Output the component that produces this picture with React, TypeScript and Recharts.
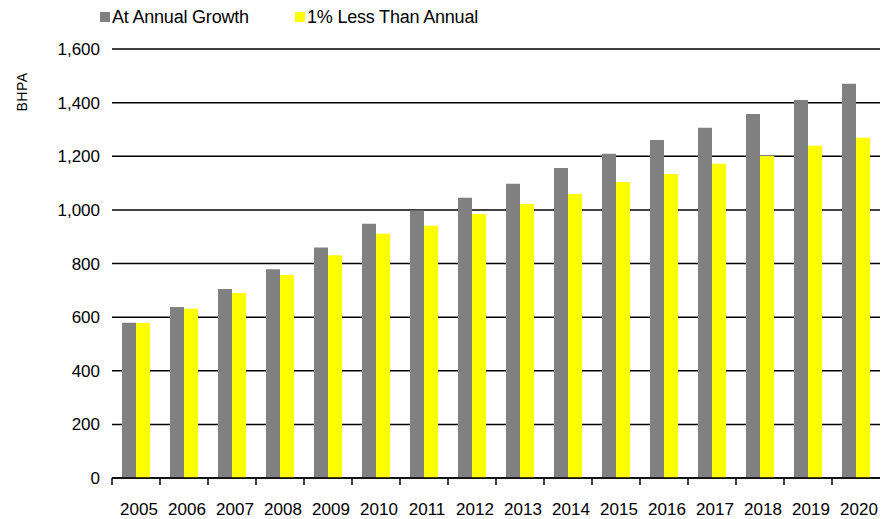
import { BarChart, Bar, XAxis, YAxis, CartesianGrid } from "recharts";

const years = ["2005", "2006", "2007", "2008", "2009", "2010", "2011", "2012", "2013", "2014", "2015", "2016", "2017", "2018", "2019", "2020"];
const atAnnualGrowth = [579, 638, 705, 779, 860, 948, 998, 1045, 1097, 1156, 1209, 1261, 1306, 1358, 1410, 1470];
const onePctLess = [578, 631, 690, 757, 831, 911, 941, 985, 1022, 1059, 1104, 1134, 1172, 1201, 1239, 1269];
const yTicks = [0, 200, 400, 600, 800, 1000, 1200, 1400, 1600];
const seriesNames = ["At Annual Growth", "1% Less Than Annual"];
const seriesColors = ["#808080", "#FFFF00"];

const data = years.map((year, i) => ({
  year,
  growth: atAnnualGrowth[i],
  less: onePctLess[i],
}));

const FONT = "'Liberation Sans', Arial, sans-serif";

const XTick = ({ x, y, payload }: any) => (
  <g>
    <line x1={x - 24} x2={x - 24} y1={y - 8} y2={y - 1} stroke="#000" strokeWidth={1.5} />
    <text x={x + 3} y={y} dy={29} textAnchor="middle" fill="#000" fontSize={17} fontFamily={FONT}>
      {payload.value}
    </text>
  </g>
);

const AxisTitle = () => (
  <text x={27} y={92} transform="rotate(-90 27 92)" textAnchor="middle" fill="#000" fontSize={14} letterSpacing={0.5} fontFamily={FONT}>
    BHPA
  </text>
);

// legend sits on top of the chart so it doesn't push the plot down
const TopLegend = () => {
  const pos = [100, 295];
  return (
    <div style={{ position: "absolute", left: 0, top: 0, width: 882, height: 30, fontFamily: FONT, fontSize: 18, color: "#000" }}>
      {seriesNames.map((name, i) => (
        <div key={name} style={{ position: "absolute", left: pos[i], top: 8, display: "flex", alignItems: "center", whiteSpace: "nowrap" }}>
          <span style={{ width: 10, height: 10, background: seriesColors[i], marginRight: 2, display: "inline-block" }} />
          <span style={{ lineHeight: "18px", letterSpacing: -0.2 }}>{name}</span>
        </div>
      ))}
    </div>
  );
};

export default function App() {
  return (
    <div style={{ position: "absolute", left: 0, top: 0, width: 882, height: 519, background: "#fff" }}>
      <BarChart width={882} height={519} data={data} margin={{ top: 49, right: 2, bottom: 11, left: 0 }} barGap={0} barSize={14}>
        <CartesianGrid vertical={false} stroke="#000" strokeWidth={1.5} />
        <XAxis dataKey="year" interval={0} height={30} tickLine={false} axisLine={{ stroke: "#000", strokeWidth: 1.5 }} tick={<XTick />} />
        <YAxis
          width={112}
          domain={[0, 1600]}
          ticks={yTicks}
          tickLine={false}
          axisLine={false}
          tickMargin={6}
          tick={{ fill: "#000", fontSize: 17, fontFamily: FONT }}
          tickFormatter={(v: number) => v.toLocaleString("en-US")}
          label={<AxisTitle />}
        />
        <Bar dataKey="growth" name={seriesNames[0]} fill={seriesColors[0]} isAnimationActive={false} />
        <Bar dataKey="less" name={seriesNames[1]} fill={seriesColors[1]} isAnimationActive={false} />
      </BarChart>
      <TopLegend />
    </div>
  );
}
